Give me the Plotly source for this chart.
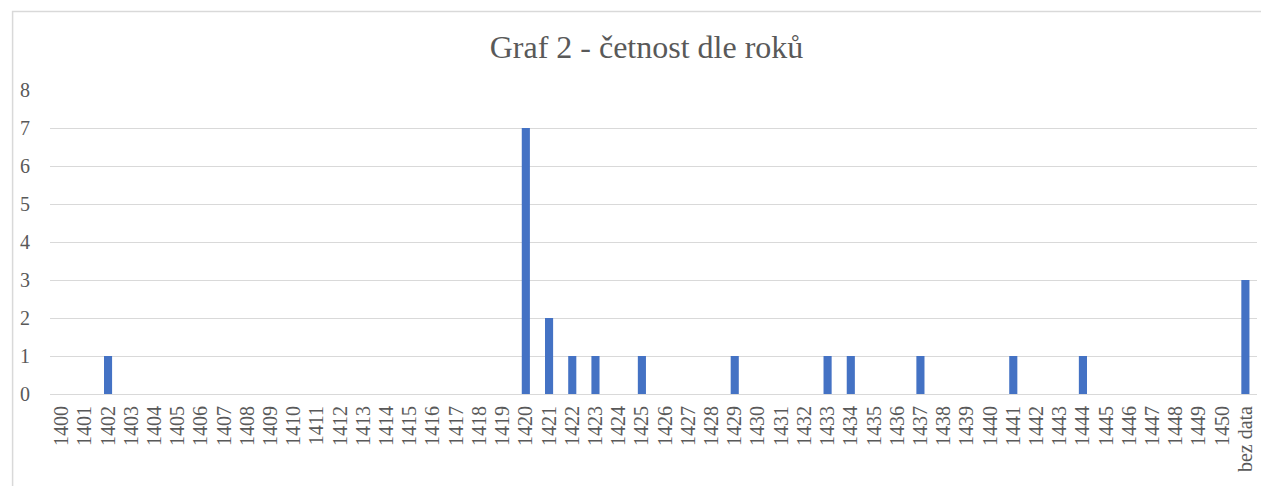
import plotly.graph_objects as go

categories = [str(y) for y in range(1400, 1451)] + ["bez data"]
counts_by_year = {"1402": 1, "1420": 7, "1421": 2, "1422": 1, "1423": 1, "1425": 1,
                  "1429": 1, "1433": 1, "1434": 1, "1437": 1, "1441": 1, "1444": 1,
                  "bez data": 3}
values = [counts_by_year.get(c, 0) for c in categories]
y_ticks = [0, 1, 2, 3, 4, 5, 6, 7, 8]

OFF = 8  # page body margin
W, H = 1269 - OFF, 486 - OFF
L, R, T, B = 47 - OFF, 12, 90 - OFF, 92
pw, ph = W - L - R, H - T - B

SERIF = "Liberation Serif, Times New Roman, serif"

fig = go.Figure(go.Bar(x=categories, y=values, marker_color="#4472C4",
                       marker_line_width=0))

def px2paper_x(px):
    return (px - OFF - L) / pw

def px2paper_y(py):
    return (H - B - (py - OFF)) / ph

fig.add_shape(type="rect", xref="paper", yref="paper",
              x0=px2paper_x(9.5), x1=px2paper_x(1262.5),
              y0=px2paper_y(520), y1=px2paper_y(11.5),
              line=dict(color="#d9d9d9", width=1.5), fillcolor="rgba(0,0,0,0)",
              layer="below")

fig.update_layout(
    width=W, height=H,
    margin=dict(l=L, r=R, t=T, b=B),
    paper_bgcolor="white", plot_bgcolor="white",
    bargap=0.65,
    showlegend=False,
    title=dict(text="Graf 2 - četnost dle roků", x=px2paper_x(645), xref="paper",
               xanchor="center",
               y=1 - (47 - OFF) / H, yanchor="middle",
               font=dict(family=SERIF, size=32, color="#595959")),
    font=dict(family=SERIF, color="#595959", size=20),
    xaxis=dict(type="category", tickangle=-90, showgrid=False, showline=False,
               ticks="", tickmode="array", tickvals=categories, ticktext=categories,
               ticklabelstandoff=7,
               tickfont=dict(family=SERIF, size=20, color="#595959"),
               categoryorder="array", categoryarray=categories),
    yaxis=dict(range=[0, 8], tickvals=y_ticks, showgrid=True, gridcolor="#d9d9d9",
               gridwidth=1, zeroline=True, zerolinecolor="#d9d9d9", zerolinewidth=1,
               showline=False, ticks="", ticklabelstandoff=19,
               tickfont=dict(family=SERIF, size=20, color="#595959")),
)

fig.write_html("out.html")
